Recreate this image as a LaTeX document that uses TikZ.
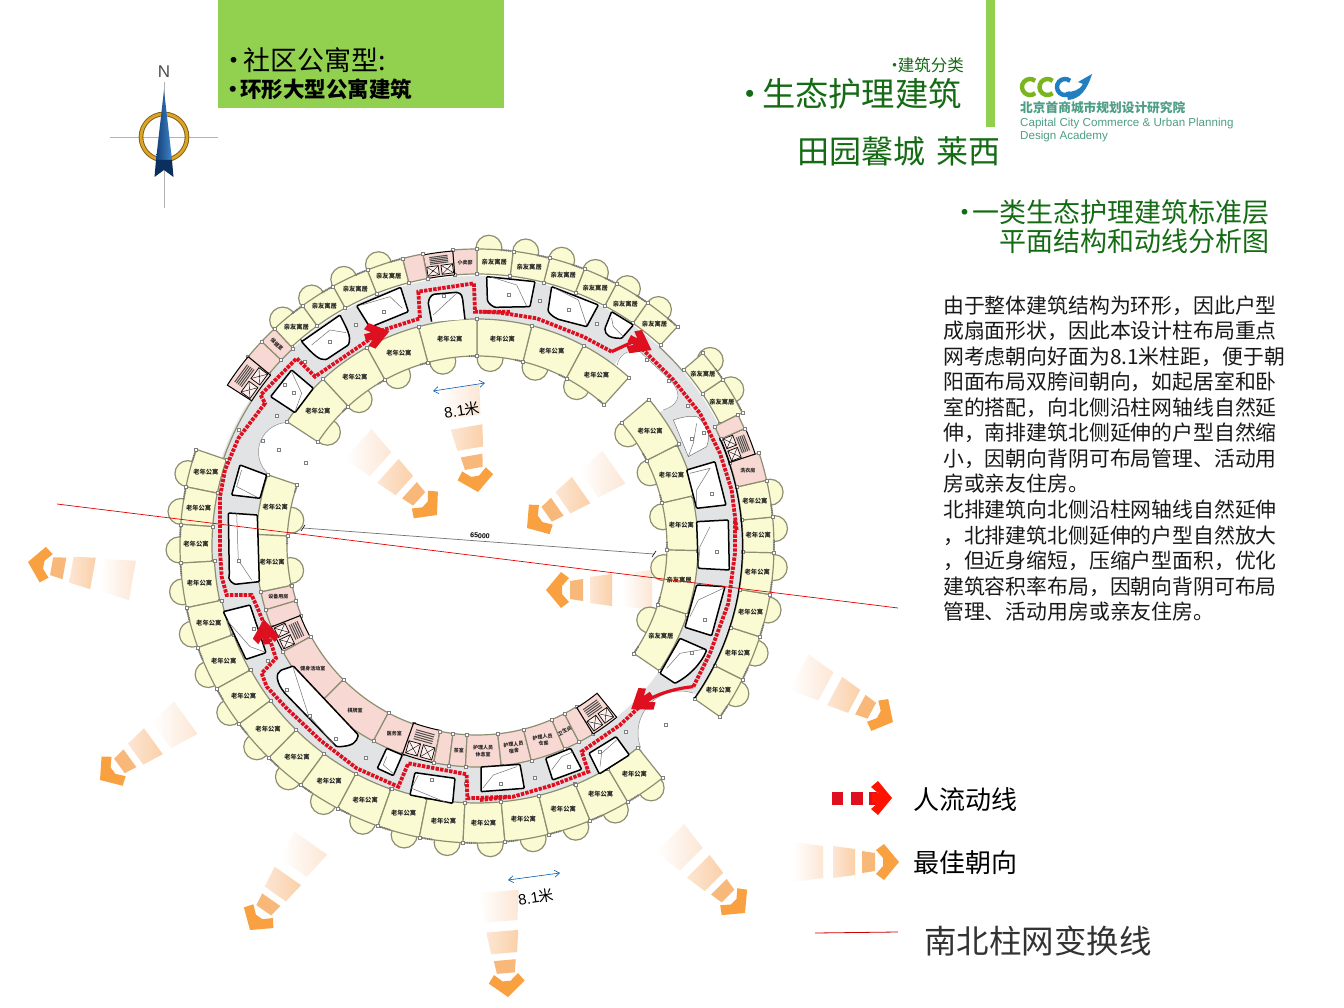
\documentclass[tikz,border=0pt]{standalone}
\usepackage{fontspec}
\setmainfont{Noto Sans CJK SC}
\newfontfamily\latinf{Liberation Sans}
\usetikzlibrary{calc,arrows.meta}
\definecolor{wall}{HTML}{8E8E72}
\definecolor{cream}{HTML}{FBFBD3}
\definecolor{pinkrm}{HTML}{F8D8D2}
\definecolor{corr}{HTML}{E2E3E5}
\definecolor{redf}{HTML}{DE1020}
\definecolor{dgreen}{HTML}{146B14}
\definecolor{boxgreen}{HTML}{92D050}
\definecolor{orA}{HTML}{F9A040}
\definecolor{orB}{HTML}{F8BC84}
\definecolor{orC}{HTML}{FBD2AC}
\definecolor{orD}{HTML}{FCE6D4}
\definecolor{logog}{HTML}{7AB51D}
\definecolor{logob}{HTML}{1F7FC0}
\definecolor{logot}{HTML}{4E9E86}
\definecolor{needleL}{HTML}{123F78}
\definecolor{needleR}{HTML}{3F86C8}
\definecolor{needleB}{HTML}{0B2F5E}
\definecolor{goldA}{HTML}{DDA425}
\definecolor{goldB}{HTML}{7A5A10}
\tikzset{
 plan/.style={shift={(477,546)},y=1pt},
 z1/.style={shift={(170,230)},x=0.3333pt,y=-0.3333pt},
 z2/.style={shift={(480,230)},x=0.3333pt,y=-0.3333pt},
 z3/.style={shift={(170,530)},x=0.3333pt,y=-0.3333pt},
 z4/.style={shift={(480,520)},x=0.3333pt,y=-0.3333pt},
 aptfill/.style={fill=cream},
 pinkfill/.style={fill=pinkrm},
 roomwall/.style={draw=wall,line width=1.2pt},
 colsq/.style={draw=gray,fill=white,line width=.4pt,minimum size=3pt,inner sep=0pt,rectangle},
 rlabel/.style={font=\fontsize{6.3}{7.2}\selectfont\bfseries,inner sep=0pt,align=center,text=black!85},
 plabel/.style={font=\fontsize{5}{6.4}\selectfont\bfseries,inner sep=0pt,align=center,text=black!85},
 voidrm/.style={draw=black,line width=1.5pt,fill=white,rounded corners=1pt},
 thinl/.style={draw=black!55,line width=.5pt},
 flow/.style={draw=redf,line width=3.8pt,dash pattern=on 3.4pt off 1.2pt},
 txt/.style={inner sep=0pt,anchor=west},
 bitewall/.style={draw=black!45,line width=.5pt},
 dimarrow/.style={{Straight Barb[length=5pt,width=7pt]}-{Straight Barb[length=5pt,width=7pt]},color=blue!50!cyan!70!black,line width=.6pt},
}
% {a1}{a2}{r1}{r2}{fill style}
\newcommand\bay[5]{%
 \draw[roomwall,#5] (#1:#4) arc[start angle=#1,end angle=#2,radius=#4 pt] -- (#2:#3) arc[start angle=#2,end angle=#1,radius=#3 pt] -- cycle;
 \node[colsq] at (#1:#3) {};\node[colsq] at (#1:#4) {};\node[colsq] at (#2:#3) {};\node[colsq] at (#2:#4) {};
}
\newcommand\lab[4][0]{\node[rlabel,rotate=#1] at (#2:#3) {#4};}
\newcommand\plab[4][0]{\node[plabel,rotate=#1] at (#2:#3) {#4};}
\newcommand\hatchw[2]{\pgfmathsetmacro\hS{#1+0.5}\pgfmathsetmacro\hE{#1+2.6}\draw[black!55,line width=2pt,dash pattern=on .9pt off .9pt] (\hS:#2) arc[start angle=\hS,end angle=\hE,radius=#2 pt];}
\newcommand\bump[4]{\pgfmathsetmacro\mA{(#1+#2)/2+#3}\draw[roomwall,fill=cream] (\mA:#4) circle[radius=13pt];}
% {a1}{a2}{r corridor side}{r far side}
\newcommand\stairblk[4]{%
 \pgfmathsetmacro\mA{(#1+#2)/2}\pgfmathsetmacro\wB{abs(#2-#1)*3.14159/180*(#3+#4)/2}\pgfmathsetmacro\dB{#4-#3}%
 \draw[draw=black,line width=1pt,fill=pinkrm] (#1:#4) arc[start angle=#1,end angle=#2,radius=#4 pt] -- (#2:#3) arc[start angle=#2,end angle=#1,radius=#3 pt] -- cycle;
 \begin{scope}[shift={(\mA:#3)},rotate=\mA-90]
  \foreach \s in {-1,1}{
   \draw[black,line width=.7pt,fill=white!60!pinkrm] ({\s*\wB/4-\wB*.2},{\dB*.08}) rectangle ({\s*\wB/4+\wB*.2},{\dB*.46});
   \draw[black,line width=.4pt] ({\s*\wB/4-\wB*.2},{\dB*.08}) -- ({\s*\wB/4+\wB*.2},{\dB*.46});
   \draw[black,line width=.4pt] ({\s*\wB/4-\wB*.2},{\dB*.46}) -- ({\s*\wB/4+\wB*.2},{\dB*.08});
  }
  \foreach \k in {.56,.63,.70,.77,.84}{\draw[black!70,line width=1pt] ({-\wB*.32},{\dB*\k}) -- ({\wB*.32},{\dB*\k});}
 \end{scope}
}
% orange arrow: tip x, tip y, angle
\newcommand\orarrow[3]{%
 \begin{scope}[shift={(#1,#2)},rotate=#3,y=1pt]
  \shade[left color=white,right color=orD] (-106,-20) -- (-76,-16) -- (-76,16) -- (-106,20) -- cycle;
  \shade[left color=orD,right color=orC!90!orB] (-66,-16) -- (-44,-13) -- (-44,13) -- (-66,16) -- cycle;
  \fill[orB!85!orA] (-37,-11) -- (-24,-9) -- (-24,9) -- (-37,11) -- cycle;
  \fill[orA] (0,0) -- (-15,18) -- (-23,12) -- (-16,4) -- (-16,-4) -- (-23,-12) -- (-15,-18) -- cycle;
 \end{scope}}
\newcommand\redhead[4][1.2]{%
 \begin{scope}[shift={(#2,#3)},rotate=#4,y=1pt,scale=#1]
  \fill[redf] (9,0) -- (-6,11) -- (-11,7) -- (-6,3) -- (-12,3) -- (-12,-3) -- (-6,-3) -- (-11,-7) -- (-6,-11) -- cycle;
 \end{scope}}
\begin{document}
\begin{tikzpicture}[x=1pt,y=-1pt]
\useasboundingbox (0,0) rectangle (1344,1008);
\fill[white] (0,0) rectangle (1344,1008);

% --- header ---
\fill[boxgreen] (218,0) rectangle (504,108);
\node[txt,font=\fontsize{27}{30}\selectfont] (t1) at (220.5,60) {•\kern-.17em 社区公寓型:};
\node[txt,font=\fontsize{21.5}{24}\selectfont\bfseries] (t2) at (222,89) {•\kern-.15em 环形大型公寓建筑};
\fill[boxgreen] (986,0) rectangle (994.5,127);
\node[inner sep=0pt,anchor=east,text=dgreen,font=\fontsize{16.5}{18}\selectfont] (t3) at (964,65) {•\kern-.3em 建筑分类};
\node[inner sep=0pt,anchor=east,text=dgreen,font=\fontsize{33.3}{36}\selectfont] (t4) at (962,94) {•\kern-.14em 生态护理建筑};
\node[inner sep=0pt,anchor=east,text=dgreen,font=\fontsize{32}{34}\selectfont] (t5) at (1001,151) {田园馨城\kern11pt 莱西};
\node[inner sep=0pt,anchor=east,text=dgreen,font=\fontsize{27}{30}\selectfont] (t6) at (1270,212) {•\kern-.2em 一类生态护理建筑标准层};
\node[inner sep=0pt,anchor=east,text=dgreen,font=\fontsize{27}{30}\selectfont] (t7) at (1270,241) {平面结构和动线分析图};

% --- logo ---
\foreach \cx in {1030,1047.5}{\draw[logog,line width=4.4pt] (\cx,87)++(50:8pt) arc[start angle=50,end angle=310,radius=8pt];}
\draw[logob,line width=4.4pt] (1065,87)++(50:8pt) arc[start angle=50,end angle=310,radius=8pt];
\fill[logob] (1068,100) .. controls (1080,99) and (1087,90) .. (1092,74) -- (1078,82) -- (1083,84) .. controls (1080,90) and (1073,92) .. (1066,92) -- cycle;
\node[txt,text=logot,font=\fontsize{12.7}{14}\selectfont\bfseries] (l1) at (1020,108) {北京首商城市规划设计研究院};
\node[txt,text=logot,font=\latinf\fontsize{11.6}{14}\selectfont] (l2) at (1020,124) {Capital City Commerce \& Urban Planning};
\node[txt,text=logot,font=\latinf\fontsize{11.6}{14}\selectfont] (l3) at (1020,137) {Design Academy};

% --- compass ---
\draw[black!30,line width=.8pt] (110,137) -- (218,137);
\draw[black!30,line width=.8pt] (164,82) -- (164,208);
\node[inner sep=0pt,text=black!70,font=\latinf\fontsize{17}{18}\selectfont] (n) at (164,72) {N};
\draw[goldB,line width=4.6pt] (164,137) circle[radius=23pt];
\draw[goldA,line width=2.8pt] (164,137) circle[radius=23pt];
\shade[left color=needleL,right color=needleR] (164,90) -- (156,160) -- (172,160) -- cycle;
\fill[needleB] (156,160) -- (154.5,177) -- (164,170) -- (173.5,177) -- (172,160) -- cycle;

% --- orange arrows ---
\orarrow{478}{492}{-80}
\orarrow{437}{515}{-42}
\orarrow{527}{528}{-145}
\orarrow{546}{590}{-180}
\orarrow{28}{562}{170}
\orarrow{893}{722}{-28}
\orarrow{100}{780}{-144}
\orarrow{745}{913}{-45}
\orarrow{250}{930}{-125}
\orarrow{508}{997}{-85}

% --- plan: under-layer ---
\begin{scope}[plan]
 \foreach \a/\b in {161/168.5,168.5/175.8,175.8/183.3,183.3/192,192/200,200/208.7,208.7/216.8,216.8/225.5,225.5/233.6,233.6/242,242/250.5,250.5/258.8,258.8/267.3,267.3/275.4,275.4/283.9,283.9/292.4,292.4/300.5,300.5/308.6,324.9/333.3,333.3/342.2,342.2/350.6,350.6/358.7,358.7/365.6,365.6/372.8,26.7/34.1,34.1/40.5,47.6/55,55/62,62/68.8,68.8/75.8,75.8/83,83/90,104.5/111.7,111.7/119,119/126,126/133}{\bump{\a}{\b}{1.2}{298}}
 \foreach \a/\b in {48/62,62/76,76/90,90/105,105/119,119/132.7,132.7/146.8,161.2/177,177/192,325.6/342,342/358.8,358.8/373.1,373.1/386.8,386.8/400.5}{\bump{\a}{\b}{3}{188}}
 \fill[corr,even odd rule] (0,0) circle[radius=270pt] (0,0) circle[radius=221pt];
 \draw[wall,line width=1.2pt] (40.5:270) arc[start angle=40.5,end angle=47.6,radius=270pt];
 \draw[wall,line width=1.2pt] (147.2:268) arc[start angle=147.2,end angle=161,radius=268pt];
\end{scope}
% courtyard bites
\fill[white] (288,452) circle[radius=29.5pt];
\fill[white] (680,733) circle[radius=42pt];
\coordinate (bn) at (288,452);
\coordinate (bs) at (680,733);
\draw[bitewall] (bn)++(86:29.5pt) arc[start angle=86,end angle=225,radius=29.5pt];
\draw[bitewall] (bs)++(72:42pt) arc[start angle=72,end angle=200,radius=42pt];
\begin{scope}[z2]
 \fill[white] (400,420) .. controls (410,380) and (440,350) .. (480,365) -- (570,450) .. controls (600,480) and (610,520) .. (550,540) -- (500,570) -- (380,530) -- cycle;
 \draw[black!45,line width=.5pt] (412,405) .. controls (415,380) and (440,355) .. (480,365) -- (570,450) .. controls (600,480) and (610,520) .. (550,540);
\end{scope}

% --- plan: rooms ---
\begin{scope}[plan]
 % outer apartments
 \foreach \a/\b/\ri in {161/168.5/265,168.5/175.8/265,175.8/183.3/265,183.3/192/263,192/200/261,200/208.7/259,208.7/216.8/258,216.8/225.5/258,225.5/233.6/258,233.6/242/258,242/250.5/258,250.5/258.8/257,258.8/267.3/257,267.3/275.4/257,275.4/283.9/257,283.9/292.4/257,292.4/300.5/258,300.5/308.6/258,324.9/333.3/266,333.3/342.2/266,342.2/350.6/266,350.6/358.7/266,358.7/365.6/266,365.6/372.8/266}{\bay{\a}{\b}{\ri}{297}{aptfill}\hatchw{\a}{297}\pgfmathsetmacro\mA{(\a+\b)/2}\pgfmathsetmacro\mR{(\ri+297)/2}\lab{\mA}{\mR}{老年公寓}}
 % north outer guest rooms
 \foreach \a/\b in {26.7/34.1,34.1/40.5,47.6/55,55/62,62/68.8,68.8/75.8,75.8/83,83/90,104.5/111.7,111.7/119,119/126,126/133}{\bay{\a}{\b}{272}{297}{aptfill}\hatchw{\a}{297}\pgfmathsetmacro\mA{(\a+\b)/2}\lab{\mA}{284}{亲友寓居}}
 % north outer service
 \bay{90}{94.7}{272}{297}{pinkfill}\plab{92.4}{284}{小卖部}
 \stairblk{94.7}{100.5}{272}{296}
 \bay{100.5}{104.5}{272}{297}{pinkfill}
 \bay{133}{136.5}{270}{297}{pinkfill}\plab[-42]{134.8}{284}{保健室}
 \bay{136.5}{140.4}{270}{297}{pinkfill}
 \stairblk{140.4}{147.2}{268}{297}
 % east outer service
 \bay{12.8}{18.3}{266}{297}{pinkfill}\plab{15.5}{281}{洗衣房}
 \stairblk{18.3}{23.7}{266}{293}
 \bay{23.7}{26.7}{266}{292}{pinkfill}
 % inner apartments
 \foreach \a/\b/\ro in {48/62/227,62/76/227,76/90/227,90/105/227,105/119/227,119/132.7/227,132.7/146.8/227,161.2/177/221,177/192/221,358.8/373.1/221,373.1/386.8/224,386.8/400.5/226}{\bay{\a}{\b}{190}{\ro}{aptfill}\hatchw{\a}{190}\pgfmathsetmacro\mA{(\a+\b)/2}\pgfmathsetmacro\mR{(\ro+190)/2}\lab{\mA}{\mR}{老年公寓}}
 \foreach \a/\b in {325.6/342,342/358.8}{\bay{\a}{\b}{190}{221}{aptfill}\hatchw{\a}{190}\pgfmathsetmacro\mA{(\a+\b)/2}\lab{\mA}{205}{亲友寓居}}
 % inner service rooms
 \bay{192}{196.8}{189}{221}{pinkfill}\plab{194.3}{205}{设备用房}
 \bay{196.8}{201.5}{189}{221}{pinkfill}
 \stairblk{201.5}{208.6}{221}{190}
 \bay{208.6}{225}{189}{221}{pinkfill}\plab{216.8}{205}{健身活动室}
 \bay{225}{242}{189}{221}{pinkfill}\plab{233.5}{205}{棋牌室}
 \bay{242}{250.3}{189}{221}{pinkfill}\plab{246.2}{205}{医务室}
 \stairblk{250.3}{258.7}{221}{188}
 \bay{258.7}{262.7}{189}{221}{pinkfill}
 \bay{262.7}{267}{189}{221}{pinkfill}\plab{264.9}{205}{茶室}
 \bay{267}{276.3}{189}{221}{pinkfill}\plab{271.7}{205}{护理人员\\休息室}
 \bay{276.3}{284.2}{189}{221}{pinkfill}\plab[5]{280.3}{205}{护理人员\\宿舍}
 \bay{284.2}{293.3}{189}{221}{pinkfill}\plab[8]{288.8}{205}{护理人员\\仓库}
 \bay{293.3}{297.5}{189}{221}{pinkfill}\plab[25]{295.4}{205}{卫生间}
 \bay{297.5}{301.7}{189}{221}{pinkfill}
 \stairblk{301.7}{309.2}{221}{190}
 % east black wall
 \draw[black,line width=1.2pt] (-35:265.5) arc[start angle=-35,end angle=24,radius=265.5pt];
\end{scope}

% --- void rooms ---
\begin{scope}[z1]
 \draw[voidrm] (395,335) -- (510,255) .. controls (530,295) and (545,320) .. (535,345) -- (470,388) .. controls (450,392) and (430,375) .. cycle;
 \draw[thinl] (425,345) -- (480,300) -- (528,308);
 \node[colsq] at (478,335) {};
 \draw[voidrm] (560,228) -- (692,172) -- (715,245) -- (600,292) -- cycle;
 \draw[thinl] (575,225) -- (660,200) -- (697,235);
 \node[colsq] at (640,245) {};
 \path[fill=white] (785,275) -- (775,220) .. controls (778,195) and (790,192) .. (800,192) -- (860,187) .. controls (875,190) and (878,200) .. (878,208) -- (885,268) -- cycle;
 \draw[black,line width=1.5pt] (785,275) -- (775,220) .. controls (778,195) and (790,192) .. (800,192) -- (860,187) .. controls (875,190) and (878,200) .. (878,208) -- (885,268);
 \draw[thinl] (790,255) -- (860,190);
 \node[colsq] at (820,197) {};
 \draw[voidrm] (365,420) -- (430,475) -- (375,548) -- (302,500) -- cycle;
 \draw[thinl] (365,425) -- (395,490) -- (375,545);
 \node[colsq] at (343,463) {};\node[colsq] at (372,487) {};
 \draw[voidrm] (210,705) -- (290,735) -- (270,805) -- (185,795) -- cycle;
 \draw[thinl] (215,720) -- (200,770) -- (262,802);
\end{scope}
\begin{scope}[z2]
 \draw[voidrm] (20,140) -- (165,155) -- (150,230) -- (45,232) .. controls (30,225) and (22,215) .. (22,205) -- cycle;
 \draw[thinl] (30,140) -- (110,165) -- (140,228);
 \node[colsq] at (85,195) {};
 \draw[voidrm] (215,170) -- (355,225) -- (320,290) -- (235,268) .. controls (210,255) and (203,245) .. (205,235) -- cycle;
 \draw[thinl] (225,175) -- (295,210) -- (320,285);
 \node[colsq] at (265,240) {};
 \draw[voidrm] (395,245) -- (460,285) -- (425,325) .. controls (390,325) and (375,315) .. (375,295) -- cycle;
 \draw[thinl] (395,265) -- (400,290) -- (430,320);
 \draw[thinl,fill=white] (580,570) .. controls (610,560) and (640,555) .. (655,562) .. controls (680,590) and (695,610) .. (680,650) -- (625,680) -- cycle;
 \draw[thinl] (650,580) -- (640,640) -- (625,680);
 \node[colsq] at (635,625) {};\node[colsq] at (670,607) {};
 \draw[voidrm] (620,720) -- (705,695) -- (738,825) -- (650,835) -- cycle;
 \draw[thinl] (630,730) -- (690,715) -- (650,780) -- (650,830);
 \node[colsq] at (695,790) {};
\end{scope}
\begin{scope}[z3]
 \draw[voidrm] (175,-51) -- (262,-45) -- (268,155) -- (195,163) .. controls (180,155) and (175,145) .. (178,135) -- cycle;
 \draw[thinl] (200,-50) -- (205,90) -- (245,150);
 \node[colsq] at (205,92) {};
 \draw[voidrm] (160,245) -- (240,225) -- (288,368) -- (228,388) -- cycle;
 \draw[thinl] (170,270) -- (240,350) -- (282,365);
 \node[colsq] at (250,296) {};
 \draw[voidrm] (370,408) -- (565,615) .. controls (560,635) and (550,650) .. (500,650) -- (345,490) .. controls (320,460) and (315,430) .. (335,420) -- cycle;
 \draw[thinl] (370,415) -- (415,555) -- (490,640);
 \node[colsq] at (350,478) {};\node[colsq] at (418,558) {};\node[colsq] at (498,625) {};
 \draw[voidrm] (650,655) -- (697,675) -- (670,737) -- (622,715) -- cycle;
 \draw[thinl] (650,680) -- (640,705) -- (675,735);
 \draw[voidrm] (735,728) -- (855,745) -- (848,820) -- (720,795) -- cycle;
 \draw[thinl] (745,735) -- (725,775) -- (830,818);
 \node[colsq] at (785,750) {};
\end{scope}
\begin{scope}[z4]
 \draw[voidrm] (3,741) -- (120,733) -- (133,805) -- (3,815) -- cycle;
 \draw[thinl] (8,805) -- (40,765) -- (110,740);
 \node[colsq] at (62,790) {};
 \draw[voidrm] (197,715) -- (272,685) -- (305,748) -- (218,780) -- cycle;
 \draw[thinl] (215,750) -- (245,710) -- (280,695);
 \node[colsq] at (265,740) {};
 \draw[voidrm] (327,700) -- (408,650) -- (448,705) -- (358,762) -- cycle;
 \draw[thinl] (360,740) -- (365,700) -- (410,660);
 \node[colsq] at (360,695) {};
 \draw[voidrm] (600,355) -- (680,390) .. controls (665,430) and (625,470) .. (585,490) -- (540,460) -- cycle;
 \draw[thinl] (560,445) -- (600,400) -- (670,388);
 \node[colsq] at (635,398) {};
 \draw[voidrm] (650,195) -- (735,200) -- (695,347) -- (615,322) -- cycle;
 \draw[thinl] (630,290) -- (655,240) -- (730,205);
 \node[colsq] at (675,300) {};
 \draw[voidrm] (650,5) -- (745,0) -- (748,150) -- (655,145) -- cycle;
 \draw[thinl] (690,20) -- (660,80) -- (655,140);
 \node[colsq] at (710,95) {};
\end{scope}

% --- corridor columns ---
\begin{scope}[z1]
 \foreach \p in {(557,285),(405,395),(320,557),(278,632),(205,600),(327,658),(408,698)}{\node[colsq] at \p {};}
\end{scope}
\begin{scope}[z2]
 \foreach \p in {(178,213),(350,280),(623,527),(565,453),(500,388)}{\node[colsq] at \p {};}
\end{scope}
\begin{scope}[z3]
 \foreach \p in {(292,392),(587,682),(888,760)}{\node[colsq] at \p {};}
\end{scope}
\begin{scope}[z4]
 \foreach \p in {(165,773),(438,635),(557,613)}{\node[colsq] at \p {};}
\end{scope}

% --- flow line ---
\begin{scope}[z1]
 \draw[flow] (1020,245) -- (915,245) -- (912,160) -- (745,185) -- (750,265) -- (640,300) -- (435,440) -- (380,385) -- (272,495) -- (285,520) -- (205,625) -- (165,720) -- (150,800) -- (150,900);
\end{scope}
\begin{scope}[z3]
 \draw[flow] (150,0) -- (150,60) -- (155,140) -- (170,195) -- (245,195) -- (265,240) -- (290,300) -- (318,385) -- (275,430) -- (290,470) -- (350,535) -- (450,630) -- (560,715) -- (685,770) -- (715,700) -- (890,733) -- (892,805) -- (1020,800);
\end{scope}
\begin{scope}[z4]
 \draw[flow] (0,840) -- (100,830) -- (220,795) -- (325,755) -- (305,695) -- (420,615) -- (490,550);
 \draw[redf,line width=3.2pt] (490,550) .. controls (530,520) and (590,505) .. (640,500);
 \draw[flow] (640,500) -- (690,400) -- (745,250) -- (765,100) -- (765,0);
\end{scope}
\begin{scope}[z2]
 \draw[flow] (770,900) -- (755,780) -- (720,670) -- (660,550) -- (580,450) -- (490,360);
 \draw[redf,line width=3.2pt] (490,360) -- (460,335) -- (395,365);
 \draw[flow] (395,365) -- (310,320) -- (170,265) -- (60,248) -- (0,245);
\end{scope}
\redhead{379}{334}{15}
\redhead{642}{345}{-28}
\redhead{640}{703}{215}
\redhead{265}{630}{97}

% --- dimension & lines ---
\coordinate (da) at (303,528);
\coordinate (db) at (654,554);
\draw[black!55,line width=.7pt] (da) -- (db);
\draw[black,line width=.6pt] ($(da)+(-2,3)$) -- ($(da)+(2,-3)$);
\draw[black,line width=.6pt] ($(db)+(-2,3)$) -- ($(db)+(2,-3)$);
\node[inner sep=0pt,rotate=-4,font=\latinf\bfseries\fontsize{7}{8}\selectfont] (dim) at (480,536) {65000};
\coordinate (ra) at (57,504);
\coordinate (rb) at (898,608);
\draw[red!90!black,line width=.7pt] (ra) -- (rb);

\coordinate (b1a) at (433,391);\coordinate (b1b) at (485,383);
\draw[dimarrow] (b1a) -- (b1b);
\node[inner sep=0pt,rotate=9,font=\latinf\fontsize{15}{16}\selectfont] (d1) at (462,410) {8.1{\fontspec{Noto Sans CJK SC}米}};
\coordinate (b2a) at (508,880);\coordinate (b2b) at (560,873);
\draw[dimarrow] (b2a) -- (b2b);
\node[inner sep=0pt,rotate=9,font=\latinf\fontsize{15}{16}\selectfont] (d2) at (536,897) {8.1{\fontspec{Noto Sans CJK SC}米}};

% --- body text ---
\node[anchor=north west,inner sep=0pt,align=left,font=\fontsize{20.85}{25.55}\selectfont,text=black!90] (body) at (943,295.3) {由于整体建筑结构为环形，因此户型\\成扇面形状，因此本设计柱布局重点\\网考虑朝向好面为8.1米柱距，便于朝\\阳面布局双胯间朝向，如起居室和卧\\室的搭配，向北侧沿柱网轴线自然延\\伸，南排建筑北侧延伸的户型自然缩\\小，因朝向背阴可布局管理、活动用\\房或亲友住房。\\北排建筑向北侧沿柱网轴线自然延伸\\，北排建筑北侧延伸的户型自然放大\\，但近身缩短，压缩户型面积，优化\\建筑容积率布局，因朝向背阴可布局\\管理、活动用房或亲友住房。};

% --- legend ---
\fill[redf] (832,792) rectangle (843,805);
\fill[redf] (851,792) rectangle (863,805);
\fill[redf] (869,792) rectangle (877,805);
\begin{scope}[shift={(892,798)},y=1pt]
 \fill[red!85!orange] (0,0) -- (-14,17) -- (-21,11) -- (-14,5) -- (-20,5) -- (-20,-5) -- (-14,-5) -- (-21,-11) -- (-14,-17) -- cycle;
\end{scope}
\node[txt,font=\fontsize{26}{28}\selectfont] (leg1) at (913,800) {人流动线};
\orarrow{899}{862}{0}
\node[txt,font=\fontsize{26}{28}\selectfont] (leg2) at (913,863) {最佳朝向};
\coordinate (la) at (815,933);\coordinate (lb) at (898,932);
\draw[red!80!black,line width=.8pt] (la) -- (lb);
\node[txt,text=black!80,font=\fontsize{32.5}{35}\selectfont] (leg3) at (924,941) {南北柱网变换线};
\end{tikzpicture}
\end{document}
